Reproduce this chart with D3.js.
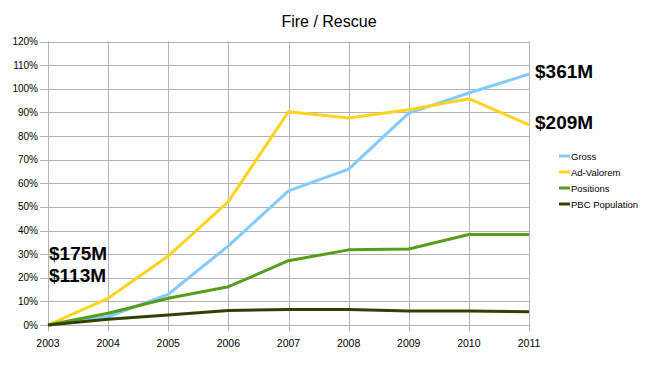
<!DOCTYPE html>
<html><head><meta charset="utf-8">
<script src="https://cdn.jsdelivr.net/npm/d3@7"></script>
<style>body{margin:0;background:#fff;} svg{display:block;font-family:"Liberation Sans",Arial,sans-serif;}</style>
</head><body><svg id="c" width="650" height="365"></svg>
<script>
const years = ["2003","2004","2005","2006","2007","2008","2009","2010","2011"];
const gross = [0, 3.5, 13, 33.5, 56.8, 66, 89.7, 98.2, 106.2];
const adValorem = [0, 11.3, 29.2, 52.2, 90.3, 87.6, 91.1, 95.8, 84.7];
const positions = [0, 5, 11.3, 16.2, 27.2, 31.8, 32.2, 38.3, 38.3];
const population = [0, 2.4, 4.2, 6.1, 6.6, 6.6, 5.9, 5.9, 5.6];
const yTicks = [0,10,20,30,40,50,60,70,80,90,100,110,120];
const seriesNames = ["Gross","Ad-Valorem","Positions","PBC Population"];
const seriesColors = ["#83caff","#ffd320","#579d1c","#314004"];
const title = "Fire / Rescue";
const annotations = [
  {text:"$361M", year:"2011", side:"right", value:106.2},
  {text:"$209M", year:"2011", side:"right", value:84.7},
  {text:"$175M", year:"2003", side:"left", value:29},
  {text:"$113M", year:"2003", side:"left", value:19.7}
];

const svg = d3.select("#c");
const x = d3.scalePoint().domain(years).range([48, 529]);
const y = d3.scaleLinear().domain([0,120]).range([325, 41.5]);

// grid
const g = svg.append("g");
g.selectAll("line.h").data(yTicks).join("line")
  .attr("x1", 40).attr("x2", 529).attr("y1", d=>Math.round(y(d))+0.5).attr("y2", d=>Math.round(y(d))+0.5)
  .attr("stroke", "#b3b3b3").attr("stroke-width",1);
g.selectAll("line.v").data(years).join("line")
  .attr("y1", y(120)).attr("y2", 331).attr("x1", d=>Math.round(x(d))+0.5).attr("x2", d=>Math.round(x(d))+0.5)
  .attr("stroke", "#b3b3b3").attr("stroke-width",1);

// axes labels
svg.append("g").selectAll("text").data(yTicks).join("text")
  .attr("x", 38).attr("y", d=>y(d)+3.5).attr("text-anchor","end")
  .attr("font-size", 10).attr("fill","#000").text(d=>d+"%");
svg.append("g").selectAll("text").data(years).join("text")
  .attr("x", d=>x(d)).attr("y", 347).attr("text-anchor","middle")
  .attr("font-size", 10.5).attr("fill","#000").text(d=>d);

// title
svg.append("text").attr("x", 329).attr("y", 27).attr("text-anchor","middle")
  .attr("font-size", 16).attr("fill","#000").text(title);

// lines
const all = [gross, adValorem, positions, population];
const line = d3.line().x((d,i)=>x(years[i])).y(d=>y(d));
all.forEach((s,i)=>{
  svg.append("path").datum(s).attr("d", line).attr("fill","none")
    .attr("stroke", seriesColors[i]).attr("stroke-width", 3).attr("stroke-linejoin","round");
});

// legend
const lg = svg.append("g");
seriesNames.forEach((n,i)=>{
  const yy = 156 + i*16;
  lg.append("line").attr("x1",559).attr("x2",570).attr("y1",yy).attr("y2",yy)
    .attr("stroke", seriesColors[i]).attr("stroke-width",3);
  lg.append("text").attr("x",571).attr("y",yy+3.5).attr("font-size",9.5).attr("fill","#000").text(n);
});

// annotations
svg.append("g").selectAll("text").data(annotations).join("text")
  .attr("x", d=> d.side==="right" ? x(d.year)+6 : x(d.year)+1)
  .attr("y", (d)=> d.side==="right" ? y(d.value)+4 : y(d.value)+4)
  .attr("font-size", 19).attr("font-weight","bold").attr("fill","#000").text(d=>d.text);
</script></body></html>
